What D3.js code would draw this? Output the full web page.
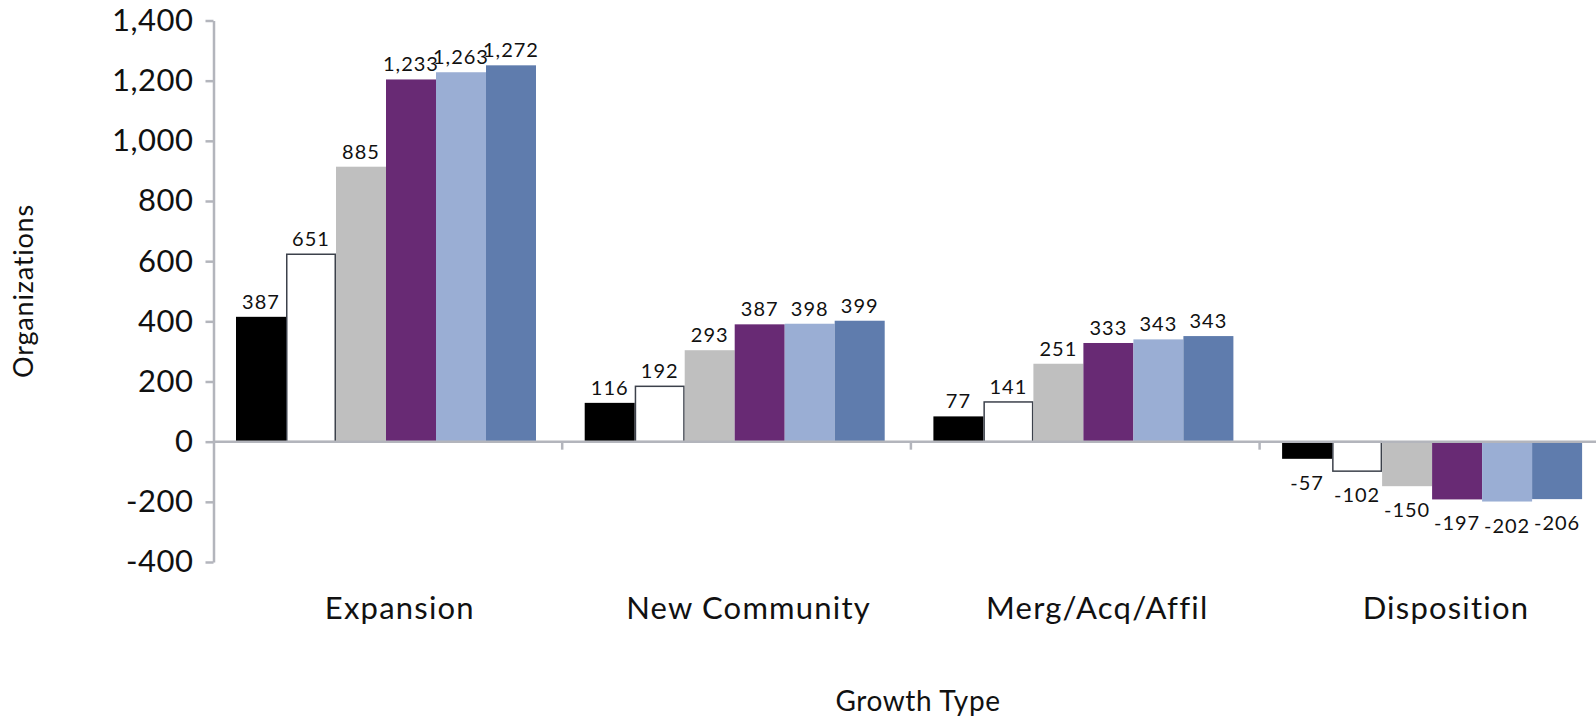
<!DOCTYPE html>
<html>
<head>
<meta charset="utf-8">
<script src="https://cdn.jsdelivr.net/npm/d3@7"></script>
<style>
  body { margin: 0; background: #fff; }
  svg { display: block; font-family: Lato, "Noto Sans", sans-serif; }
</style>
</head>
<body>
<svg id="chart"></svg>
<script>
// Chart values
var categories = ["Expansion", "New Community", "Merg/Acq/Affil", "Disposition"];
var seriesNames = ["s1", "s2", "s3", "s4", "s5", "s6"];

// bar heights as drawn
var expansion    = [415, 623, 914, 1204, 1228, 1251];
var newCommunity = [129, 184, 304, 390, 392, 402];
var mergAcqAffil = [84, 132, 259, 328, 340, 351];
var disposition  = [-57, -98, -148, -192, -199, -191];

// value labels as printed
var expansionLabels    = ["387", "651", "885", "1,233", "1,263", "1,272"];
var newCommunityLabels = ["116", "192", "293", "387", "398", "399"];
var mergAcqAffilLabels = ["77", "141", "251", "333", "343", "343"];
var dispositionLabels  = ["-57", "-102", "-150", "-197", "-202", "-206"];

var yTicks = [-400, -200, 0, 200, 400, 600, 800, 1000, 1200, 1400];

var colors = ["#000000", "#ffffff", "#bfbfbf", "#682a74", "#9aaed4", "#5f7cad"];

var values = [expansion, newCommunity, mergAcqAffil, disposition];
var labels = [expansionLabels, newCommunityLabels, mergAcqAffilLabels, dispositionLabels];

var width = 1596, height = 717;
var svg = d3.select("#chart").attr("width", width).attr("height", height);

var axisLeftX = 213.5;
var x = d3.scaleBand()
    .domain(categories)
    .range([axisLeftX, axisLeftX + 4 * 348.7])
    .padding(0);

var xInner = d3.scaleBand()
    .domain(seriesNames)
    .range([22.5, 322.5])
    .padding(0);

var y = d3.scaleLinear()
    .domain([-400, 1400])
    .range([562, 20.5]);

var axisColor = "#b3b5bc";

// y axis
var yAxis = svg.append("g")
    .attr("transform", "translate(" + axisLeftX + ",0)")
    .call(d3.axisLeft(y)
        .tickValues(yTicks)
        .tickSize(8)
        .tickSizeOuter(0)
        .tickPadding(12)
        .tickFormat(d => d < 0 ? "-" + d3.format(",")(-d) : d3.format(",")(d)));
yAxis.select(".domain").attr("stroke", axisColor).attr("stroke-width", 2.5);
yAxis.selectAll(".tick line").attr("stroke", axisColor).attr("stroke-width", 2.5);
yAxis.selectAll(".tick text")
    .attr("fill", "#111")
    .style("font-size", "31px")
    .style("letter-spacing", "0.5px")
    .style("font-family", "Lato, 'Noto Sans', sans-serif");

// bars
var groups = svg.selectAll(".group")
    .data(categories)
    .enter().append("g")
    .attr("class", "group")
    .attr("transform", d => "translate(" + x(d) + ",0)");

groups.each(function(cat, ci) {
    var g = d3.select(this);
    var rows = seriesNames.map((s, si) => ({ s: s, si: si, v: values[ci][si], label: labels[ci][si] }));

    g.selectAll("rect")
        .data(rows)
        .enter().append("rect")
        .attr("x", d => xInner(d.s) + (d.si === 1 ? 0.75 : 0))
        .attr("width", d => xInner.bandwidth() - (d.si === 1 ? 1.5 : 0))
        .attr("y", d => y(Math.max(0, d.v)))
        .attr("height", d => Math.abs(y(d.v) - y(0)))
        .attr("fill", d => colors[d.si])
        .attr("stroke", d => d.si === 1 ? "#3c414b" : "none")
        .attr("stroke-width", 1.5);

    g.selectAll("text")
        .data(rows)
        .enter().append("text")
        .attr("x", d => xInner(d.s) + xInner.bandwidth() / 2)
        .attr("y", d => d.v >= 0 ? y(d.v) - 8 : y(d.v) + 31)
        .attr("text-anchor", "middle")
        .attr("fill", "#111")
        .style("font-size", "20px")
        .style("letter-spacing", "1px")
        .text(d => d.label);
});

// x axis line at zero with category separators
var zeroY = y(0);
svg.append("line")
    .attr("x1", axisLeftX)
    .attr("x2", width)
    .attr("y1", zeroY)
    .attr("y2", zeroY)
    .attr("stroke", axisColor)
    .attr("stroke-width", 2.5);

svg.selectAll(".xtick")
    .data(categories.slice(1))
    .enter().append("line")
    .attr("class", "xtick")
    .attr("x1", d => x(d))
    .attr("x2", d => x(d))
    .attr("y1", zeroY)
    .attr("y2", zeroY + 8)
    .attr("stroke", axisColor)
    .attr("stroke-width", 2.5);

// category labels
svg.selectAll(".catlabel")
    .data(categories)
    .enter().append("text")
    .attr("class", "catlabel")
    .attr("x", d => x(d) + x.bandwidth() / 2 + 12)
    .attr("y", 619)
    .attr("text-anchor", "middle")
    .attr("fill", "#111")
    .style("font-size", "31px")
    .style("letter-spacing", "1.2px")
    .text(d => d);

// axis titles
svg.append("text")
    .attr("x", 918)
    .attr("y", 711)
    .attr("text-anchor", "middle")
    .attr("fill", "#111")
    .style("font-size", "28px")
    .style("letter-spacing", "0.6px")
    .text("Growth Type");

svg.append("text")
    .attr("transform", "translate(33,291) rotate(-90)")
    .attr("text-anchor", "middle")
    .attr("fill", "#111")
    .style("font-size", "27px")
    .style("letter-spacing", "0.8px")
    .text("Organizations");
</script>
</body>
</html>
